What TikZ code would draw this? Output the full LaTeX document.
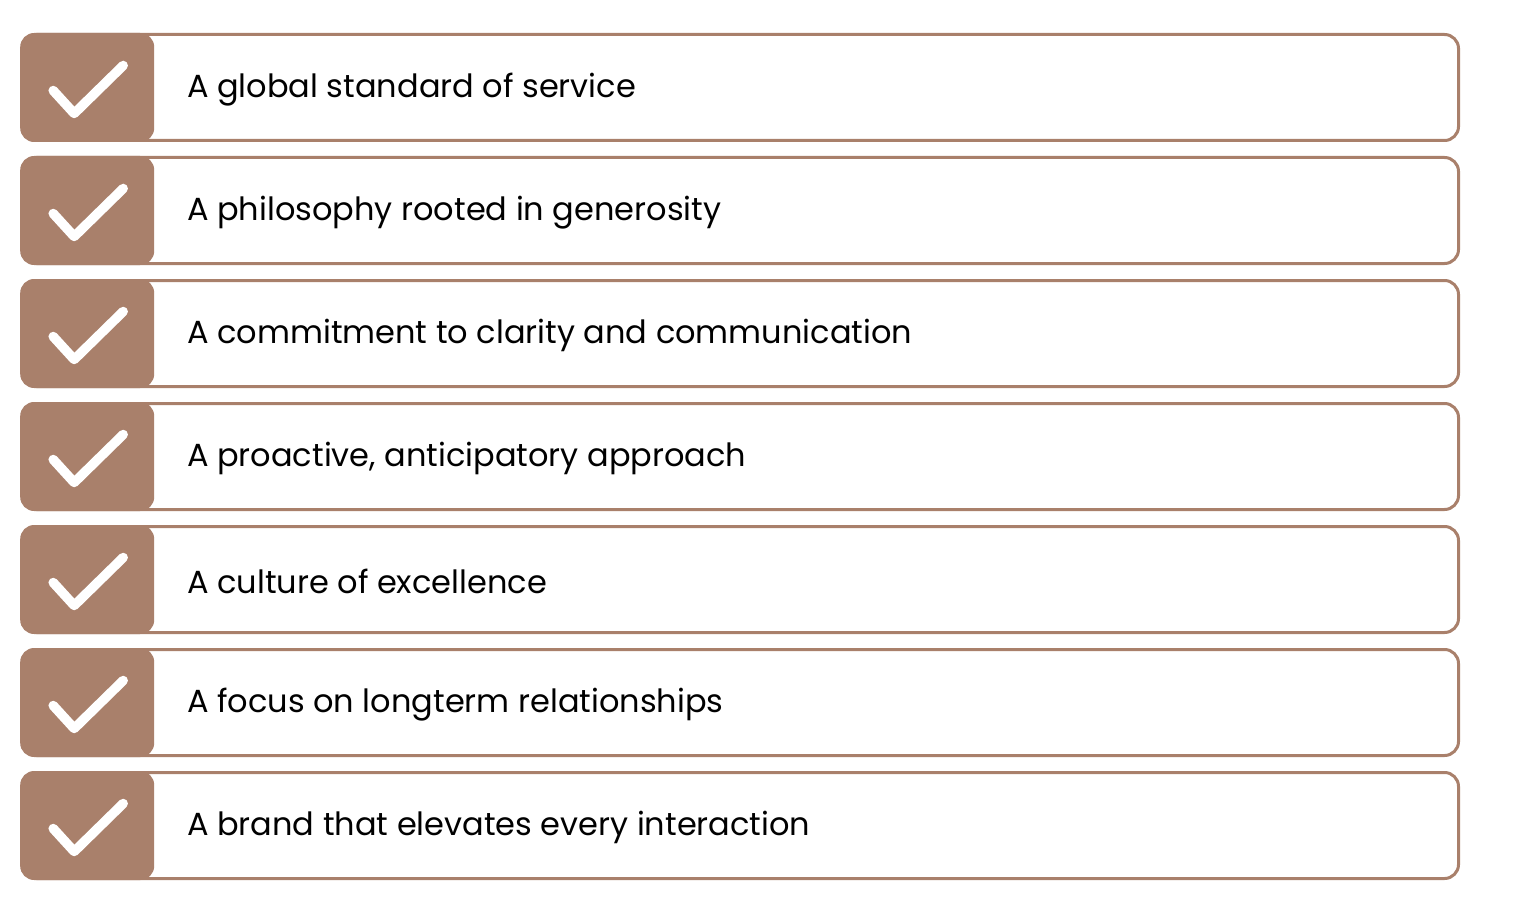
\documentclass[tikz,border=0pt]{standalone}
\usepackage{fontspec}
\setmainfont{Poppins}
\definecolor{brn}{HTML}{A9806B}
\begin{document}
\begin{tikzpicture}[x=1pt,y=-1pt,
  rowbox/.style={draw=brn,line width=3pt,rounded corners=14pt,minimum width=1436pt,minimum height=106pt,anchor=west,inner sep=0pt},
  chkbox/.style={fill=brn,rounded corners=14pt,minimum width=134pt,minimum height=109pt,anchor=west,inner sep=0pt},
  lbl/.style={anchor=west,font=\fontsize{32}{38}\selectfont,text=black,inner sep=0pt},
  chk/.style={draw=white,line width=9.5pt,line cap=round,line join=round}]
\useasboundingbox (0,0) rectangle (1526,912);
\foreach \t [count=\i] in {A global standard of service,A philosophy rooted in generosity,A commitment to clarity and communication,{A proactive, anticipatory approach},A culture of excellence,A focus on longterm relationships,A brand that elevates every interaction}{
  \pgfmathsetmacro{\yy}{87.5+123*(\i-1)}
  \node[rowbox] (r\i) at (21,\yy) {};
  \node[chkbox] (c\i) at (20,\yy) {};
  \draw[chk] ([shift={(-34,3)}]c\i.center) -- ([shift={(-13,26)}]c\i.center) -- ([shift={(36,-22)}]c\i.center);
  \node[lbl] (t\i) at (187,\yy+2) {\t};
}
\end{tikzpicture}
\end{document}
